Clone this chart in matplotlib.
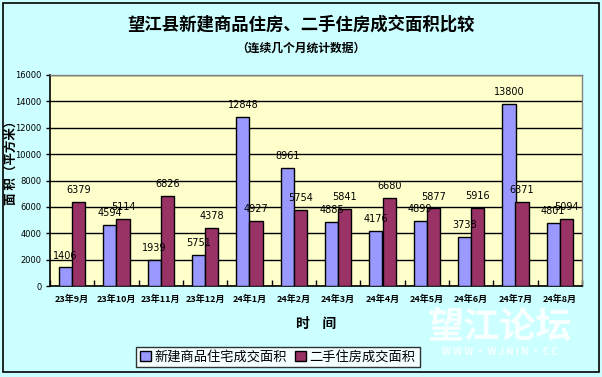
import matplotlib
matplotlib.use("Agg")
import matplotlib.pyplot as plt
import numpy as np
from matplotlib.patches import Rectangle

plt.rcParams['font.family'] = ['Noto Sans CJK SC', 'DejaVu Sans']

categories = ["23年9月", "23年10月", "23年11月", "23年12月", "24年1月", "24年2月",
              "24年3月", "24年4月", "24年5月", "24年6月", "24年7月", "24年8月"]
new_values = [1406, 4594, 1939, 2350, 12848, 8961, 4885, 4176, 4899, 3738, 13800, 4801]
new_labels = ["1406", "4594", "1939", "5751", "12848", "8961", "4885", "4176", "4899", "3738", "13800", "4801"]
second_values = [6379, 5114, 6826, 4378, 4927, 5754, 5841, 6680, 5877, 5916, 6371, 5094]
second_labels = [str(v) for v in second_values]
series_names = ["新建商品住宅成交面积", "二手住房成交面积"]
yticks = [0, 2000, 4000, 6000, 8000, 10000, 12000, 14000, 16000]

W, H = 602, 377
fig = plt.figure(figsize=(W / 100, H / 100), dpi=100)
fig.patch.set_facecolor("#ccffff")

# outer border
fig.patches.append(Rectangle((3 / W, 5 / H), 596 / W, 369 / H, transform=fig.transFigure,
                             fill=False, edgecolor="black", linewidth=1.2))

left, right, top, bottom = 50, 582, 75, 286
ax = fig.add_axes([left / W, 1 - bottom / H, (right - left) / W, (bottom - top) / H])
ax.set_facecolor("#ffffcc")

x = np.arange(len(categories))
bw = 0.3
b1 = ax.bar(x - bw / 2, new_values, bw, color="#9999ff", edgecolor="black", linewidth=1, zorder=3)
b2 = ax.bar(x + bw / 2, second_values, bw, color="#993366", edgecolor="black", linewidth=1, zorder=3)

for xi, v, lab in zip(x, new_values, new_labels):
    ax.annotate(lab, (xi - bw / 2, v), xytext=(0, 5), textcoords="offset points",
                ha="center", va="bottom", fontsize=7, family="DejaVu Sans", zorder=4)
for xi, v, lab in zip(x, second_values, second_labels):
    ax.annotate(lab, (xi + bw / 2, v), xytext=(0, 5), textcoords="offset points",
                ha="center", va="bottom", fontsize=7, family="DejaVu Sans", zorder=4)

ax.set_xlim(-0.5, len(categories) - 0.5)
ax.set_ylim(0, 16000)
ax.set_yticks(yticks)
ax.set_yticklabels([str(t) for t in yticks], fontsize=6, family="DejaVu Sans")
ax.yaxis.grid(True, color="black", linewidth=1, zorder=0)
ax.set_axisbelow(True)
ax.set_xticks(x)
ax.set_xticklabels(categories, fontsize=6.5, fontweight="bold")
ax.tick_params(axis="x", length=0, pad=6)
ax.set_xticks(np.arange(len(categories) + 1) - 0.5, minor=True)
ax.tick_params(axis="x", which="minor", direction="in", length=4, width=1)
ax.tick_params(axis="y", direction="out", length=3, width=1, pad=3)
for s in ["left", "bottom"]:
    ax.spines[s].set_color("black")
    ax.spines[s].set_linewidth(1.2)
for s in ["top", "right"]:
    ax.spines[s].set_color("#808080")
    ax.spines[s].set_linewidth(1)

ax.set_xlabel("时    间", fontsize=10, fontweight="bold", labelpad=10)
fig.text(11 / W, 1 - 160 / H, "面 积（平方米）", rotation=90, ha="center", va="center",
         fontsize=9, fontweight="bold")

fig.text(0.5, 1 - 25 / H, "望江县新建商品住房、二手住房成交面积比较", ha="center", va="center",
         fontsize=12.5, fontweight="bold")
fig.text(0.5, 1 - 48 / H, "（连续几个月统计数据）", ha="center", va="center",
         fontsize=8.5, fontweight="bold")

leg = fig.legend([b1, b2], series_names, loc="center", bbox_to_anchor=(278 / W, 1 - 357 / H),
                 ncol=2, fontsize=9.5, frameon=True, fancybox=False, edgecolor="black",
                 handlelength=0.8, handleheight=0.8, handletextpad=0.3, columnspacing=0.6,
                 borderpad=0.3)
leg.get_frame().set_facecolor("white")
leg.get_frame().set_linewidth(1)

# watermark
fig.text(500 / W, 1 - 328 / H, "望江论坛", ha="center", va="center", fontsize=26,
         fontweight="bold", color="white", alpha=0.85)
fig.text(500 / W, 1 - 352 / H, "W W W · W J N I N · C C", ha="center", va="center",
         fontsize=7, fontweight="bold", color="white", alpha=0.85)

fig.savefig("out.png", dpi=100, facecolor=fig.get_facecolor())
